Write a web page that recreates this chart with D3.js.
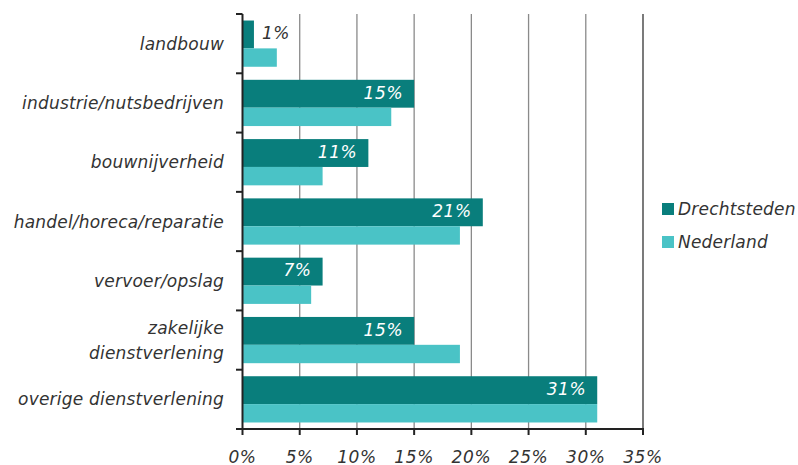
<!DOCTYPE html>
<html><head><meta charset="utf-8">
<script src="https://cdn.jsdelivr.net/npm/d3@7"></script>
<style>body{margin:0;background:#fff}svg{display:block;font-family:"DejaVu Sans",Verdana,sans-serif;font-style:italic}</style>
</head><body><svg id="c" width="798" height="465"></svg>
<script>
const categories = [["landbouw"],["industrie/nutsbedrijven"],["bouwnijverheid"],["handel/horeca/reparatie"],["vervoer/opslag"],["zakelijke","dienstverlening"],["overige dienstverlening"]];
const drechtsteden = [1,15,11,21,7,15,31];
const nederland = [3,13,7,19,6,19,31];
const xTicks = [0,5,10,15,20,25,30,35];
const seriesNames = ["Drechtsteden","Nederland"];
const colors = ["#097e7c","#4ac3c6"];

const svg = d3.select("#c");
const x = d3.scaleLinear().domain([0,35]).range([242.5,643]);
const y = d3.scaleBand().domain(d3.range(categories.length)).range([14,429]);
const bw = y.bandwidth();
const textCol = "#333";

// gridlines
svg.append("g").selectAll("line").data(xTicks.slice(1)).join("line")
  .attr("x1",d=>x(d)).attr("x2",d=>x(d)).attr("y1",14).attr("y2",429)
  .attr("stroke",(d,i,a)=>i===a.length-1?"#333":"#8a8a8a").attr("stroke-width",1.3);

// bars
const g = svg.append("g");
g.selectAll("rect.d").data(drechtsteden).join("rect").attr("class","d")
  .attr("x",x(0)).attr("y",(d,i)=>y(i)+bw*0.11).attr("height",bw*0.47)
  .attr("width",d=>x(d)-x(0)).attr("fill",colors[0]);
g.selectAll("rect.n").data(nederland).join("rect").attr("class","n")
  .attr("x",x(0)).attr("y",(d,i)=>y(i)+bw*0.58).attr("height",bw*0.31)
  .attr("width",d=>x(d)-x(0)).attr("fill",colors[1]);

// value labels
g.selectAll("text.v").data(drechtsteden).join("text").attr("class","v")
  .attr("x",d=>d<3?x(d)+8:x(d)-11)
  .attr("text-anchor",d=>d<3?"start":"end")
  .attr("y",(d,i)=>y(i)+bw*0.11+bw*0.235+4.8)
  .attr("font-size",17).attr("letter-spacing",0.6).attr("fill",d=>d<3?textCol:"#fff")
  .text(d=>d+"%");

// y axis
const ya = svg.append("g");
ya.append("line").attr("x1",x(0)).attr("x2",x(0)).attr("y1",14).attr("y2",430).attr("stroke","#222").attr("stroke-width",2);
ya.selectAll("line.t").data(d3.range(categories.length+1)).join("line").attr("class","t")
  .attr("x1",236).attr("x2",x(0)).attr("y1",d=>14+d*bw).attr("y2",d=>14+d*bw)
  .attr("stroke","#222").attr("stroke-width",2);
ya.selectAll("text").data(categories).join("text")
  .attr("text-anchor","end").attr("font-size",17).attr("letter-spacing",0.2).attr("fill",textCol)
  .each(function(lines,i){
    const c = y(i)+bw/2;
    const lh = 25;
    d3.select(this).selectAll("tspan").data(lines).join("tspan")
      .attr("x",224).attr("y",(l,j)=>c+6+(j-(lines.length-1)/2)*lh).text(l=>l);
  });

// x axis
const xa = svg.append("g");
xa.append("line").attr("x1",x(0)-1).attr("x2",x(35)+1).attr("y1",429).attr("y2",429).attr("stroke","#222").attr("stroke-width",2);
xa.selectAll("line.t").data(xTicks).join("line").attr("class","t")
  .attr("x1",d=>x(d)).attr("x2",d=>x(d)).attr("y1",429).attr("y2",435).attr("stroke","#222").attr("stroke-width",2);
xa.selectAll("text").data(xTicks).join("text")
  .attr("x",d=>x(d)).attr("y",462.5).attr("text-anchor","middle").attr("font-size",17).attr("letter-spacing",0.6).attr("fill",textCol)
  .text(d=>d+"%");

// legend
const lg = svg.append("g");
seriesNames.forEach((n,i)=>{
  lg.append("rect").attr("x",662).attr("y",203+i*33).attr("width",12).attr("height",12).attr("fill",colors[i]);
  lg.append("text").attr("x",678).attr("y",215+i*33).attr("font-size",17).attr("letter-spacing",0.2).attr("fill",textCol).text(n);
});
</script></body></html>
